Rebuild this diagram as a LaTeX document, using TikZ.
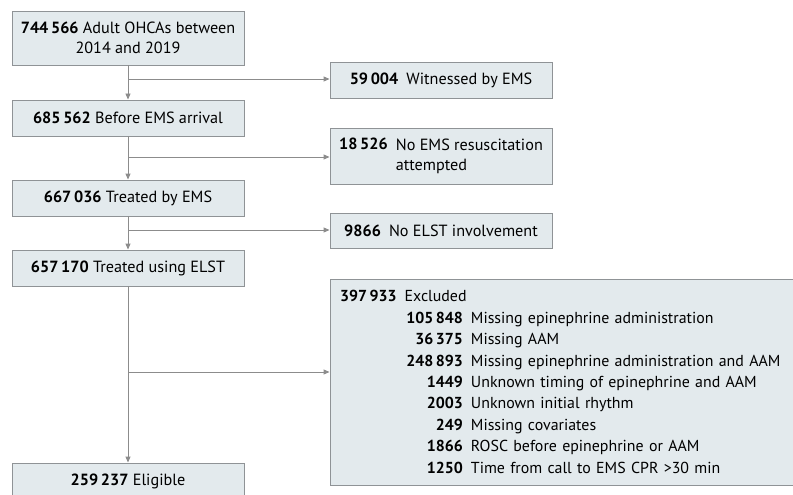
\documentclass[tikz,border=0pt]{standalone}
\usepackage{fontspec}
\setmainfont{PT Sans}
\usetikzlibrary{arrows.meta}
\definecolor{boxfill}{HTML}{E3EAED}
\definecolor{boxline}{HTML}{8F9396}
\definecolor{arrline}{HTML}{8C8C8C}
\newcommand{\nb}[1]{\textbf{#1}}
\newcommand{\exline}[2]{\mbox{\makebox[123pt][r]{\nb{#1}}\enspace #2}}
\begin{document}
\begin{tikzpicture}[x=1pt,y=-1pt,
  flowbox/.style={draw=boxline, fill=boxfill, line width=0.9pt, inner sep=0pt, align=center,
    font=\fontsize{16.2}{20}\selectfont},
  leftbox/.style={flowbox, minimum width=232pt},
  rightbox/.style={flowbox, minimum width=222pt},
  conn/.style={draw=arrline, line width=0.9pt, -{Triangle[length=6pt,width=5pt]}}]
\useasboundingbox (0,0) rectangle (793,495);
% left column
\node[leftbox, minimum height=54pt] (b1) at (128,38) {\nb{744\,566} Adult OHCAs between\\2014 and 2019};
\node[leftbox, minimum height=36pt] (b2) at (128,118) {\nb{685\,562} Before EMS arrival};
\node[leftbox, minimum height=36pt] (b3) at (128,198) {\nb{667\,036} Treated by EMS};
\node[leftbox, minimum height=36pt] (b4) at (128,268) {\nb{657\,170} Treated using ELST};
\node[leftbox, minimum height=36pt] (b5) at (128,481) {\nb{259\,237} Eligible};
% right column
\node[rightbox, minimum height=36pt] (r1) at (441,80) {\nb{59\,004}\enspace Witnessed by EMS};
\node[rightbox, minimum height=56pt] (r2) at (441,156) {\begin{tabular}{@{}l@{\enspace}l@{}}\nb{18\,526} & No EMS resuscitation\\ & attempted\end{tabular}};
\node[rightbox, minimum height=35pt] (r3) at (441,230.5) {\nb{9866}\enspace No ELST involvement};
\node[flowbox, text width=443pt, inner xsep=10pt, minimum height=206pt, align=left,
  font=\fontsize{15.9}{21.4}\selectfont] (r4) at (561.5,382) {%
  \mbox{\nb{397\,933}\enspace Excluded}\\
  \exline{105\,848}{Missing epinephrine administration}\\
  \exline{36\,375}{Missing AAM}\\
  \exline{248\,893}{Missing epinephrine administration and AAM}\\
  \exline{1449}{Unknown timing of epinephrine and AAM}\\
  \exline{2003}{Unknown initial rhythm}\\
  \exline{249}{Missing covariates}\\
  \exline{1866}{ROSC before epinephrine or AAM}\\
  \exline{1250}{Time from call to EMS CPR >30 min}};
% junctions
\coordinate (j1) at (128,79);
\coordinate (j2) at (128,157);
\coordinate (j3) at (128,230);
\coordinate (j4) at (128,372);
% connectors
\draw[conn] (b1.south) -- (b2.north);
\draw[conn] (b2.south) -- (b3.north);
\draw[conn] (b3.south) -- (b4.north);
\draw[conn] (b4.south) -- (b5.north);
\draw[conn] (j1) -- (j1 -| r1.west);
\draw[conn] (j2) -- (j2 -| r2.west);
\draw[conn] (j3) -- (j3 -| r3.west);
\draw[conn] (j4) -- (j4 -| r4.west);
\end{tikzpicture}
\end{document}
